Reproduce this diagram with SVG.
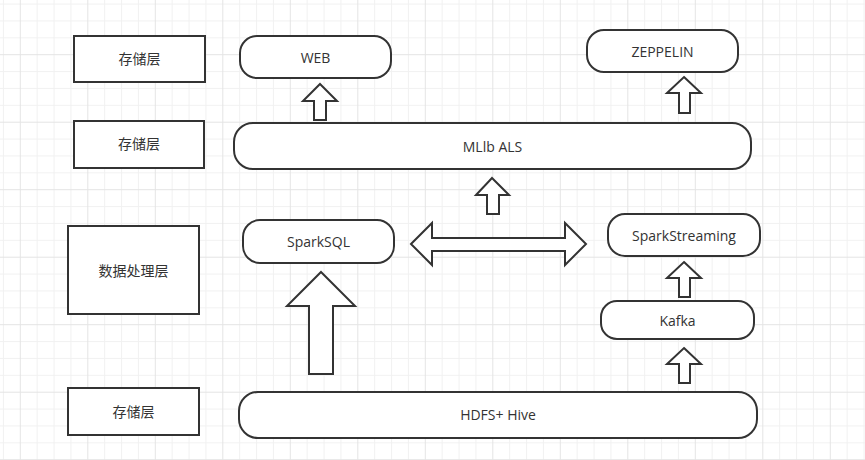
<svg xmlns="http://www.w3.org/2000/svg" width="865" height="460" viewBox="0 0 865 460">
<defs>
<pattern id="grid" patternUnits="userSpaceOnUse" x="19.8" y="54.2" width="67.5" height="67.5">
<path d="M17.375 0V67.5M34.25 0V67.5M51.125 0V67.5M0 17.375H67.5M0 34.25H67.5M0 51.125H67.5" stroke="#f1f1f1" stroke-width="1" fill="none"/>
<path d="M0.5 0V67.5M0 0.5H67.5" stroke="#e4e4e4" stroke-width="1" fill="none"/>
</pattern>
<style>
.box{fill:#fff;stroke:#333;stroke-width:2}
.arr{fill:#fff;stroke:#333;stroke-width:2;stroke-linejoin:miter}
.t{font-family:"Open Sans","Noto Sans CJK SC",sans-serif;font-size:14px;fill:#333;text-anchor:middle;dominant-baseline:central}
.c{font-family:"Noto Sans CJK SC","Open Sans",sans-serif;font-size:14px;fill:#333;text-anchor:middle;dominant-baseline:central}
</style>
</defs>
<rect width="865" height="460" fill="#fff"/>
<rect width="865" height="460" fill="url(#grid)"/>

<g id="layer-top">
<rect class="box" x="74" y="36" width="131" height="46"/>
<text class="c" x="139.5" y="58">存储层</text>
</g>
<g id="layer-algo">
<rect class="box" x="74" y="121" width="130" height="47"/>
<text class="c" x="139" y="143">存储层</text>
</g>
<g id="layer-process">
<rect class="box" x="68" y="226" width="131" height="88"/>
<text class="c" x="133.5" y="270">数据处理层</text>
</g>
<g id="layer-storage">
<rect class="box" x="68" y="388" width="131" height="47"/>
<text class="c" x="133.5" y="411">存储层</text>
</g>

<g id="web">
<rect class="box" x="240" y="36" width="151" height="42" rx="17"/>
<text class="t" x="315.5" y="57">WEB</text>
</g>
<g id="zeppelin">
<rect class="box" x="587" y="30" width="151" height="42" rx="17"/>
<text class="t" x="662.5" y="51">ZEPPELIN</text>
</g>
<g id="mllib">
<rect class="box" x="234" y="123" width="517" height="46" rx="19"/>
<text class="t" x="492.5" y="146">MLlb ALS</text>
</g>
<g id="sparksql">
<rect class="box" x="243" y="220" width="151" height="43" rx="17"/>
<text class="t" x="318.5" y="241">SparkSQL</text>
</g>
<g id="sparkstreaming">
<rect class="box" x="608" y="214" width="152" height="42" rx="17"/>
<text class="t" x="684" y="235">SparkStreaming</text>
</g>
<g id="kafka">
<rect class="box" x="601" y="301" width="153" height="38" rx="16"/>
<text class="t" x="677.5" y="320">Kafka</text>
</g>
<g id="hdfs">
<rect class="box" x="239" y="392" width="518" height="46" rx="19"/>
<text class="t" x="498" y="414">HDFS+ Hive</text>
</g>

<g id="connectors">
<polygon class="arr" points="320,84 337,101 326,101 326,120 314,120 314,101 303,101"/>
<polygon class="arr" points="684,77 701,93 690,93 690,113 679,113 679,93 667,93"/>
<polygon class="arr" points="492,178 509,195 499,195 499,214 487,214 487,195 476,195"/>
<polygon class="arr" points="684,262 701,278 690,278 690,297 679,297 679,278 667,278"/>
<polygon class="arr" points="684,348 701,364 690,364 690,383 679,383 679,364 667,364"/>
<polygon class="arr" points="321,272 355,306 333,306 333,374 309,374 309,306 287,306"/>
<polygon class="arr" points="411,244 432,223 432,238 565,238 565,223 586,244 565,265 565,251 432,251 432,265"/>
</g>
</svg>
